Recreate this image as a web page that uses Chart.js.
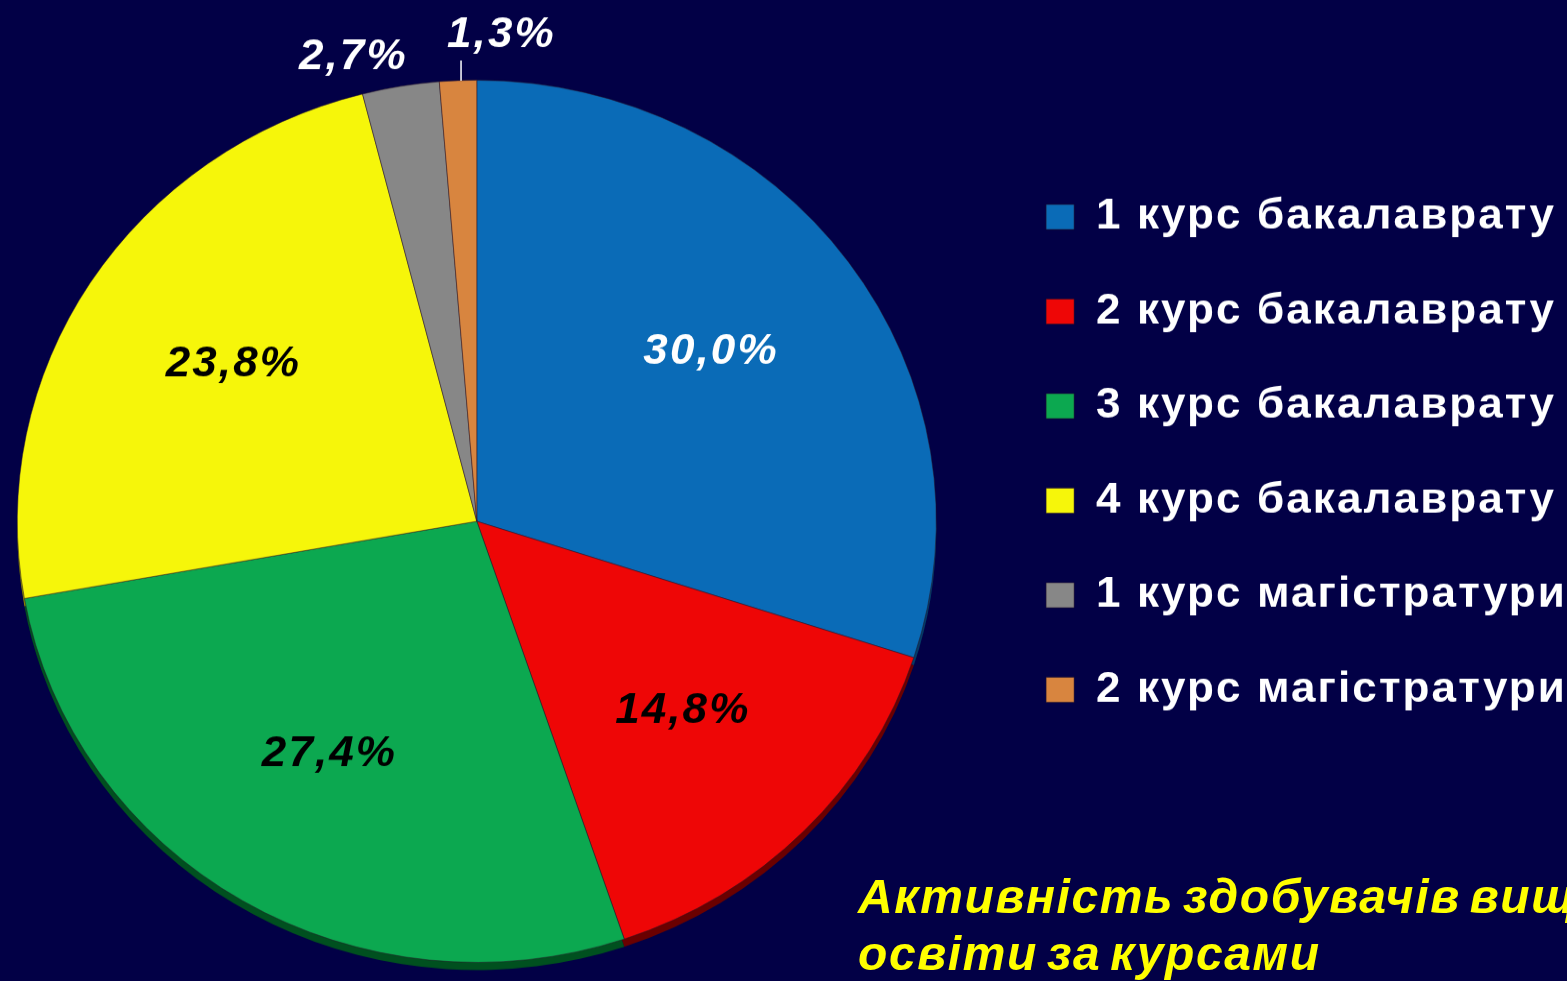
<!DOCTYPE html>
<html><head><meta charset="utf-8">
<script src="https://cdn.jsdelivr.net/npm/chart.js@4.4.1/dist/chart.umd.min.js"></script>
<style>
html,body{margin:0;padding:0;background:#020046;width:1567px;height:981px;overflow:hidden;position:relative}
#wrap{position:absolute;left:-38.5px;top:0;width:1615px;height:1022px;transform:scaleY(0.96);transform-origin:0 0}
#note{position:absolute;left:858px;top:868px;font:italic bold 48px "Liberation Sans",Arial,sans-serif;line-height:57px;color:#ffff00;letter-spacing:1.6px;word-spacing:-6px;white-space:nowrap}
</style></head><body>
<div id="wrap"><canvas id="c" width="1615" height="1022"></canvas></div>
<div id="note">Активність здобувачів вищої<br>освіти за курсами</div>
<script>
const categories = ['1 курс бакалаврату','2 курс бакалаврату','3 курс бакалаврату','4 курс бакалаврату','1 курс магістратури','2 курс магістратури'];
const shares = [30.0, 14.8, 27.4, 23.8, 2.7, 1.3];
const sliceColors = ['#0a6bb7','#ee0606','#0ca850','#f6f60a','#878787','#d8853f'];
const rimColors = ['#053a66','#6a0000','#00501f','#8a8a00','#444444','#7a4a20'];
const labelColors = ['#ffffff','#000000','#000000','#000000','#ffffff','#ffffff'];
const labelPlacement = ['inside','inside','inside','inside','outside-left','leader'];

const fmt = v => v.toFixed(1).replace('.', ',') + '%';
const LS = '2.1px';
const spacingPlugin = {
  id: 'spacing',
  beforeLayout(chart){ chart.ctx.letterSpacing = LS; },
  beforeDraw(chart){ chart.ctx.letterSpacing = LS; }
};
const rimPlugin = {
  id: 'rim',
  beforeDatasetsDraw(chart){
    const ctx = chart.ctx;
    chart.getDatasetMeta(0).data.forEach((arc, i) => {
      const p = arc.getProps(['x','y','startAngle','endAngle','outerRadius'], true);
      ctx.save();
      ctx.beginPath();
      ctx.moveTo(p.x, p.y + 8);
      ctx.arc(p.x, p.y + 8, p.outerRadius, p.startAngle, p.endAngle);
      ctx.closePath();
      ctx.fillStyle = rimColors[i];
      ctx.fill();
      ctx.restore();
    });
  }
};
const labelPlugin = {
  id: 'vlabels',
  afterDatasetsDraw(chart){
    const ctx = chart.ctx;
    ctx.save();
    ctx.font = 'italic bold 44px "Liberation Sans", Arial, sans-serif';
    ctx.textBaseline = 'middle';
    chart.getDatasetMeta(0).data.forEach((arc, i) => {
      const p = arc.getProps(['x','y','startAngle','endAngle','outerRadius'], true);
      const mid = (p.startAngle + p.endAngle) / 2;
      const txt = fmt(shares[i]);
      ctx.fillStyle = labelColors[i];
      const mode = labelPlacement[i];
      if (mode === 'inside') {
        const r = p.outerRadius * 0.63;
        ctx.textAlign = 'center';
        ctx.fillText(txt, p.x + r * Math.cos(mid), p.y + r * Math.sin(mid) - 6);
      } else {
        const ex = p.x + p.outerRadius * Math.cos(mid);
        const ey = p.y + p.outerRadius * Math.sin(mid);
        if (mode === 'outside-left') {
          ctx.textAlign = 'right';
          ctx.fillText(txt, ex + 7, ey - 30);
        } else {
          ctx.strokeStyle = '#ffffff';
          ctx.lineWidth = 1.5;
          ctx.beginPath();
          ctx.moveTo(ex + 3, ey);
          ctx.lineTo(ex + 3, ey - 21);
          ctx.stroke();
          ctx.textAlign = 'left';
          ctx.fillText(txt, ex - 11, ey - 47);
        }
      }
    });
    ctx.restore();
  }
};

new Chart(document.getElementById('c'), {
  type: 'pie',
  data: {
    labels: categories,
    datasets: [{ data: shares, backgroundColor: sliceColors, borderWidth: 1, borderColor: 'rgba(40,20,40,0.5)' }]
  },
  options: {
    responsive: false,
    animation: false,
    layout: { padding: { left: 0, right: 0, top: 83, bottom: 19 } },
    plugins: {
      legend: {
        position: 'right',
        align: 'start',
        title: { display: true, text: ' ', font: { size: 10 }, padding: { top: 54.5, bottom: 0 } },
        labels: {
          color: '#ffffff',
          font: { family: '"Liberation Sans", Arial, sans-serif', weight: 'bold', size: 44 },
          boxWidth: 28, boxHeight: 26, padding: 54.5
        }
      },
      tooltip: { enabled: false }
    }
  },
  plugins: [spacingPlugin, rimPlugin, labelPlugin]
});
</script>
</body></html>
